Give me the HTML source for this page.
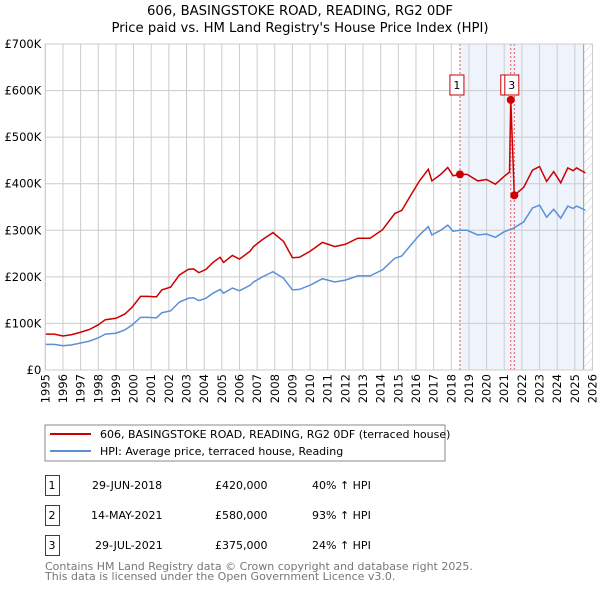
<!DOCTYPE html>
<html><head><meta charset="utf-8"><style>
body{margin:0;background:#fff;width:600px;height:590px;overflow:hidden;font-family:"DejaVu Sans","Liberation Sans",sans-serif;}
svg text{font-family:"DejaVu Sans","Liberation Sans",sans-serif;}
</style></head><body>
<svg id="chart" width="600" height="590">
<defs><pattern id="hatch" width="6" height="6" patternUnits="userSpaceOnUse" patternTransform="rotate(45)"><line x1="0" y1="0" x2="0" y2="6" stroke="#ccc" stroke-width="1"/></pattern></defs>
<text x="300" y="15" text-anchor="middle" font-size="13.2">606, BASINGSTOKE ROAD, READING, RG2 0DF</text>
<text x="300" y="32" text-anchor="middle" font-size="13.2">Price paid vs. HM Land Registry's House Price Index (HPI)</text>
<g id="plot"></g>
<rect x="45" y="425" width="400" height="36" fill="#fff" stroke="#888"/>
<line x1="50" y1="434" x2="91" y2="434" stroke="#cc0000" stroke-width="2"/>
<text x="100" y="438" font-size="11">606, BASINGSTOKE ROAD, READING, RG2 0DF (terraced house)</text>
<line x1="50" y1="451" x2="91" y2="451" stroke="#5b8fd6" stroke-width="2"/>
<text x="100" y="455" font-size="11">HPI: Average price, terraced house, Reading</text>
<g font-size="11">
<rect x="45.5" y="475.5" width="14" height="20" fill="#fff" stroke="#cc0000"/><text x="52" y="489" text-anchor="middle">1</text>
<text x="92" y="489">29-JUN-2018</text><text x="215" y="489">£420,000</text><text x="312" y="489">40% ↑ HPI</text>
<rect x="45.5" y="505.5" width="14" height="20" fill="#fff" stroke="#cc0000"/><text x="52" y="519" text-anchor="middle">2</text>
<text x="91" y="519">14-MAY-2021</text><text x="215" y="519">£580,000</text><text x="312" y="519">93% ↑ HPI</text>
<rect x="45.5" y="535.5" width="14" height="20" fill="#fff" stroke="#cc0000"/><text x="52" y="549" text-anchor="middle">3</text>
<text x="95" y="549">29-JUL-2021</text><text x="215" y="549">£375,000</text><text x="312" y="549">24% ↑ HPI</text>
</g>
<text x="45" y="570" font-size="11" fill="#777">Contains HM Land Registry data © Crown copyright and database right 2025.</text>
<text x="45" y="580" font-size="11" fill="#777">This data is licensed under the Open Government Licence v3.0.</text>
</svg>
<script>
const hpiDates=[1995.0,1995.5,1996.0,1996.5,1997.0,1997.5,1998.0,1998.4,1999.0,1999.5,1999.9,2000.4,2000.8,2001.3,2001.6,2002.1,2002.6,2003.1,2003.4,2003.7,2004.1,2004.5,2004.9,2005.1,2005.6,2006.0,2006.6,2006.8,2007.3,2007.9,2008.5,2009.0,2009.4,2010.0,2010.3,2010.7,2011.4,2012.0,2012.7,2013.4,2014.1,2014.8,2015.2,2015.7,2016.2,2016.7,2016.9,2017.4,2017.8,2018.1,2018.5,2018.9,2019.5,2020.0,2020.5,2021.0,2021.5,2022.1,2022.6,2023.0,2023.4,2023.8,2024.2,2024.6,2024.9,2025.1,2025.6];
const hpiValues=[55,55,52,54,58,62,69,77,79,86,96,113,113,112,123,127,146,154,155,149,154,165,173,165,176,170,182,189,200,211,197,172,173,182,188,196,189,193,202,202,215,240,245,268,290,308,290,300,311,298,300,300,290,292,285,297,304,318,348,354,328,345,326,352,347,352,343];
const priceDates=[1995.0,1995.5,1996.0,1996.5,1997.0,1997.5,1998.0,1998.4,1999.0,1999.5,1999.9,2000.4,2000.8,2001.3,2001.6,2002.1,2002.6,2003.1,2003.4,2003.7,2004.1,2004.5,2004.9,2005.1,2005.6,2006.0,2006.6,2006.8,2007.3,2007.9,2008.5,2009.0,2009.4,2010.0,2010.3,2010.7,2011.4,2012.0,2012.7,2013.4,2014.1,2014.8,2015.2,2015.7,2016.2,2016.7,2016.9,2017.4,2017.8,2018.1,2018.5,2018.9,2019.5,2020.0,2020.5,2021.0,2021.3,2021.37,2021.57,2022.1,2022.6,2023.0,2023.4,2023.8,2024.2,2024.6,2024.9,2025.1,2025.6];
const priceValues=[77,77,73,76,81,87,97,108,111,120,134,158,158,157,172,178,204,216,217,209,216,231,242,231,246,238,255,265,280,295,276,241,242,255,263,274,265,270,283,283,301,336,343,375,406,431,406,420,435,417,420,420,406,409,399,416,425,580,375,392,429,437,405,426,402,434,428,434,423];
const saleDates=[2018.49,2021.37,2021.57];
const saleValues=[420,580,375];
const saleLabels=["1","2","3"];
const yTicks=[0,100,200,300,400,500,600,700];
const yTickLabels=["£0","£100K","£200K","£300K","£400K","£500K","£600K","£700K"];
const xYears=[1995,1996,1997,1998,1999,2000,2001,2002,2003,2004,2005,2006,2007,2008,2009,2010,2011,2012,2013,2014,2015,2016,2017,2018,2019,2020,2021,2022,2023,2024,2025,2026];

const L=45.3,R=592.5,T=44,B=370;
const x=d=>L+(d-1995)/(2026-1995)*(R-L);
const y=v=>B-v/700*(B-T);
const NS="http://www.w3.org/2000/svg";
const g=document.getElementById('plot');
function mk(tag,attrs,parent){const e=document.createElementNS(NS,tag);for(const k in attrs)e.setAttribute(k,attrs[k]);(parent||g).appendChild(e);return e;}

let r=mk('rect',{x:x(saleDates[0]),y:T,width:x(2025.5)-x(saleDates[0]),height:B-T,fill:'#eef3fc'});


r=mk('rect',{x:x(2025.5),y:T,width:R-x(2025.5),height:B-T,fill:'url(#hatch)'});



yTicks.forEach((v,i)=>{
 let l=mk('line',{x1:L,x2:R,y1:y(v),y2:y(v),stroke:'#cccccc','stroke-width':1});
 
 
 let t=mk('text',{x:L-4,y:y(v)+4,'text-anchor':'end','font-size':11.5});
 t.textContent=yTickLabels[i];
 
 
});
xYears.forEach(yr=>{
 let l=mk('line',{x1:x(yr),x2:x(yr),y1:T,y2:B,stroke:'#cccccc','stroke-width':1});
 
 
 let t=mk('text',{x:0,y:0,'text-anchor':'end','font-size':11.5,transform:`translate(${x(yr)+4},${B+4}) rotate(-90)`});
 t.textContent=yr;
 
 
});
let ax=mk('line',{x1:x(2025.5),x2:x(2025.5),y1:T,y2:B,stroke:'#999','stroke-width':1});



saleDates.forEach(d=>{
 let l=mk('line',{x1:x(d),x2:x(d),y1:T,y2:B,stroke:'#ee5555','stroke-width':1,'stroke-dasharray':'2,2'});
 
 
});

let p1=mk('polyline',{points:hpiDates.map((d,i)=>x(d)+','+y(hpiValues[i])).join(' '),fill:'none',stroke:'#5b8fd6','stroke-width':1.5});


let p2=mk('polyline',{points:priceDates.map((d,i)=>x(d)+','+y(priceValues[i])).join(' '),fill:'none',stroke:'#cc0000','stroke-width':1.5});



saleDates.forEach((d,i)=>{
 let c=mk('circle',{cx:x(d),cy:y(saleValues[i]),r:4,fill:'#cc0000'});
 
 
});
const boxOffsets=[-3,-3,-2.5];
saleDates.forEach((d,i)=>{
 const bx=x(d)+boxOffsets[i]-7;
 let b=mk('rect',{x:bx,y:75,width:14,height:20,fill:'#fff',stroke:'#cc0000'});
 
 
 let t=mk('text',{x:bx+7,y:89,'text-anchor':'middle','font-size':11});
 t.textContent=saleLabels[i];
 
 
});
let fr=mk('rect',{x:L,y:T,width:R-L,height:B-T,fill:'none',stroke:'#cccccc'});


</script>
</body></html>
